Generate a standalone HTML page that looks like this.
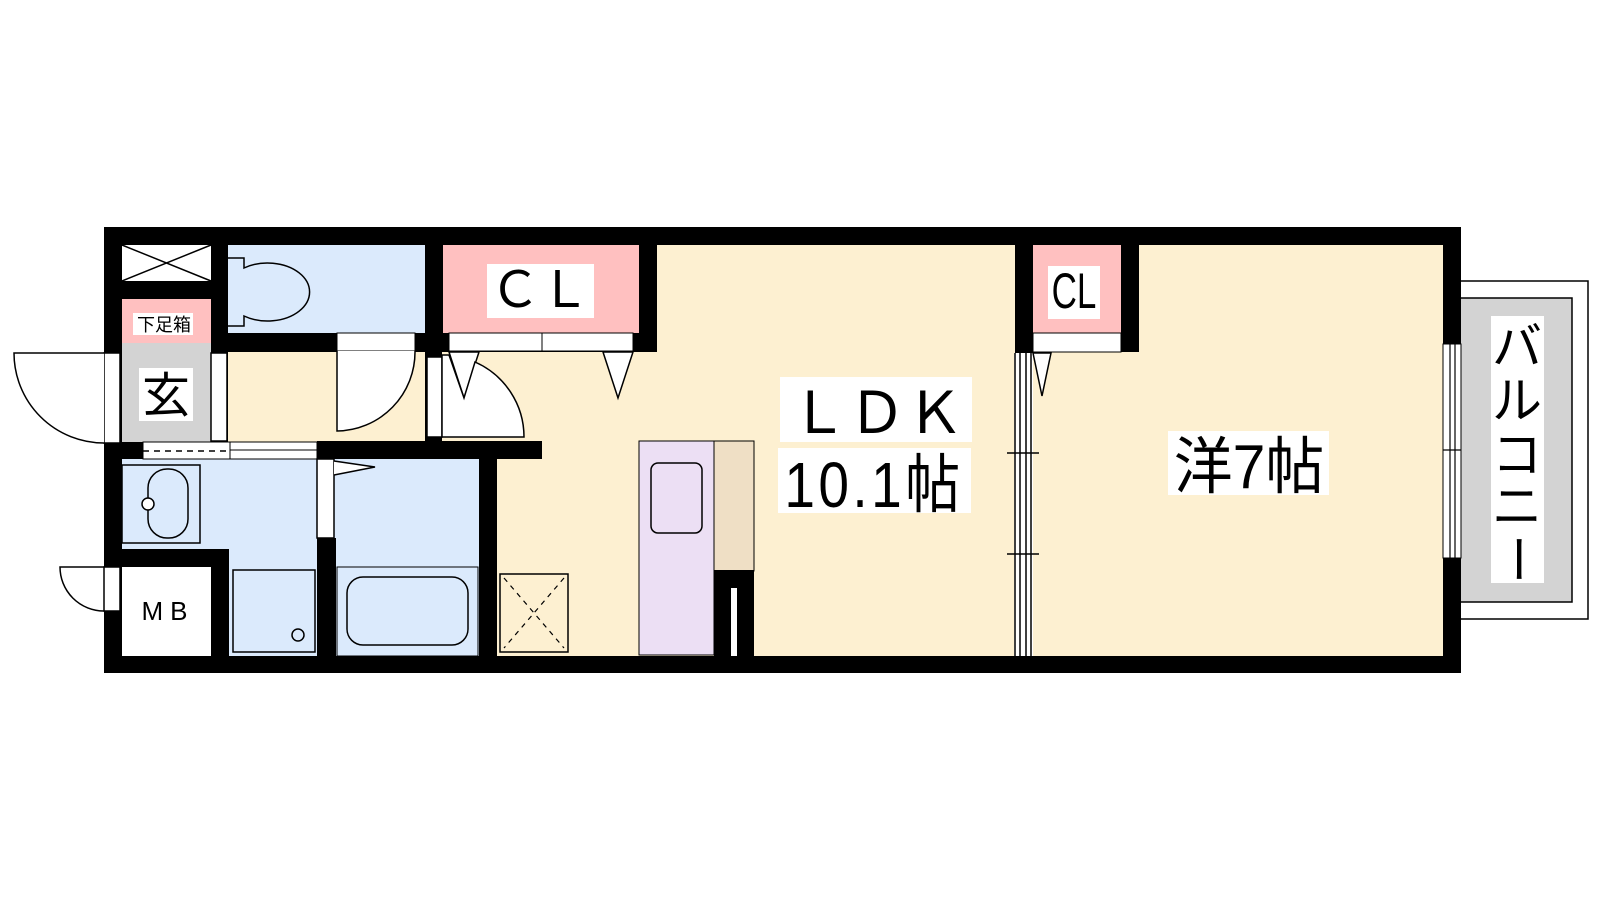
<!DOCTYPE html>
<html><head><meta charset="utf-8"><style>
html,body{margin:0;padding:0;background:#fff;width:1600px;height:900px;overflow:hidden}
svg{display:block}
text{font-family:"Liberation Sans","Noto Sans CJK JP",sans-serif;fill:#000}
</style></head><body>
<svg width="1600" height="900" viewBox="0 0 1600 900" xmlns="http://www.w3.org/2000/svg">
<!-- balcony -->
<rect x="1455" y="281" width="133" height="338" fill="#fff" stroke="#000" stroke-width="1.5"/>
<rect x="1455" y="298" width="117" height="304" fill="#d3d3d3" stroke="#000" stroke-width="1.5"/>
<!-- outer black -->
<rect x="104" y="227" width="1357" height="446" fill="#000"/>
<!-- LDK & western cream -->
<rect x="657" y="245" width="358" height="411" fill="#fdf0d1"/>
<rect x="442" y="352" width="216" height="90" fill="#fdf0d1"/>
<rect x="497" y="441" width="161" height="215" fill="#fdf0d1"/>
<rect x="542" y="441" width="116" height="20" fill="#fdf0d1"/>
<rect x="1033" y="352" width="410" height="304" fill="#fdf0d1"/>
<rect x="1139" y="245" width="304" height="108" fill="#fdf0d1"/>
<!-- hallway -->
<rect x="228" y="352" width="197" height="90" fill="#fdf0d1"/>
<!-- top-left X box -->
<rect x="122" y="245" width="89" height="36" fill="#fff"/>
<path d="M122 245 L211 281 M211 245 L122 281" stroke="#000" stroke-width="1.5"/>
<!-- 下足箱 -->
<rect x="122" y="299" width="89" height="44" fill="#ffc0c0"/>
<rect x="133" y="313" width="60" height="22" fill="#fff"/>
<text x="164" y="331" font-size="18" text-anchor="middle">下足箱</text>
<!-- 玄 -->
<rect x="122" y="343" width="89" height="99" fill="#d3d3d3"/>
<rect x="139" y="368" width="54" height="53" fill="#fff"/>
<text x="166" y="412" font-size="48" text-anchor="middle">玄</text>
<!-- entrance door -->
<rect x="104" y="353" width="16" height="90" fill="#fff" stroke="#000" stroke-width="1.5"/>
<path d="M104 353 L14 353 A90 90 0 0 0 104 443" fill="#fff" stroke="#000" stroke-width="1.5"/>
<!-- door frame between 玄 and hall -->
<rect x="211" y="353" width="16" height="88" fill="#fff" stroke="#000" stroke-width="1.5"/>
<!-- toilet -->
<rect x="228" y="245" width="197" height="88" fill="#dbeafc"/>
<path d="M228 258 L244 258 L244 268 A42 29 0 1 1 244 316 L244 326 L228 326" fill="#dbeafc" stroke="#000" stroke-width="1.5"/>
<!-- toilet door -->
<rect x="337" y="333" width="78" height="18" fill="#fff" stroke="#000" stroke-width="1"/>
<path d="M337 351 L337 431 A79 79 0 0 0 415 351" fill="#fff" stroke="#000" stroke-width="1.5"/>
<!-- CL big -->
<rect x="443" y="245" width="196" height="88" fill="#ffc0c0"/>
<rect x="487" y="264" width="107" height="54" fill="#fff"/>
<text x="540" y="307" font-size="50" text-anchor="middle">ＣＬ</text>
<rect x="449" y="333" width="93" height="18" fill="#fff" stroke="#000" stroke-width="1"/>
<rect x="542" y="333" width="91" height="18" fill="#fff" stroke="#000" stroke-width="1"/>
<path d="M449 352 L479 352 L464 398 Z M603 352 L633 352 L618 398 Z" fill="#fff" stroke="#000" stroke-width="1.5"/>
<!-- frame and door into LDK -->
<rect x="427" y="357" width="15" height="80" fill="#fff" stroke="#000" stroke-width="1.5"/>
<path d="M442 437 L524 437 A82 82 0 0 0 475 362 L464 398 L449 355 L442 355 Z" fill="#fff" stroke="#000" stroke-width="1.5"/>
<!-- bath area -->
<rect x="122" y="459" width="357" height="197" fill="#dbeafc"/>
<!-- hall/bath wall openings -->
<rect x="143" y="442" width="87" height="17" fill="#fff" stroke="#000" stroke-width="1"/>
<line x1="143" y1="451" x2="230" y2="451" stroke="#000" stroke-width="1.5" stroke-dasharray="6,5"/>
<rect x="230" y="442" width="87" height="17" fill="#fff" stroke="#000" stroke-width="1"/>
<line x1="230" y1="450" x2="317" y2="450" stroke="#000" stroke-width="1"/>
<!-- washbasin -->
<rect x="122" y="465" width="78" height="78" fill="#dbeafc" stroke="#000" stroke-width="1.5"/>
<rect x="148" y="469" width="40" height="69" rx="19" fill="none" stroke="#000" stroke-width="1.5"/>
<circle cx="148" cy="504" r="6" fill="#fff" stroke="#000" stroke-width="1.5"/>
<!-- MB -->
<rect x="104" y="549" width="125" height="18" fill="#000"/>
<rect x="211" y="549" width="18" height="107" fill="#000"/>
<rect x="122" y="567" width="89" height="89" fill="#fff"/>
<text x="168" y="620" font-size="26" text-anchor="middle" letter-spacing="7">MB</text>
<rect x="104" y="567" width="16" height="44" fill="#fff" stroke="#000" stroke-width="1.5"/>
<path d="M104 567 L60 567 A44 44 0 0 0 104 611" fill="none" stroke="#000" stroke-width="1.5"/>
<!-- shower tray -->
<rect x="233" y="570" width="82" height="82" fill="#dbeafc" stroke="#000" stroke-width="1.5"/>
<circle cx="298" cy="635" r="6" fill="none" stroke="#000" stroke-width="1.5"/>
<!-- bath partition -->
<rect x="317" y="538" width="19" height="118" fill="#000"/>
<rect x="317" y="459" width="17" height="79" fill="#fff" stroke="#000" stroke-width="1.5"/>
<path d="M334 461 L375 467 L334 475" fill="#fff" stroke="#000" stroke-width="1.5"/>
<!-- tub -->
<rect x="337" y="567" width="141" height="89" fill="#dbeafc" stroke="#000" stroke-width="1"/>
<rect x="347" y="577" width="121" height="68" rx="16" fill="none" stroke="#000" stroke-width="1.5"/>
<!-- black bars -->
<rect x="317" y="441" width="225" height="18" fill="#000"/>
<rect x="479" y="459" width="18" height="197" fill="#000"/>
<!-- washer -->
<rect x="500" y="574" width="68" height="78" fill="#fdf0d1" stroke="#000" stroke-width="1.5"/>
<path d="M504 578 L564 648 M564 578 L504 648" stroke="#000" stroke-width="1.2" stroke-dasharray="5,5"/>
<!-- kitchen -->
<rect x="639" y="441" width="75" height="214" fill="#ecdff4" stroke="#000" stroke-width="1"/>
<rect x="651" y="463" width="51" height="70" rx="7" fill="none" stroke="#000" stroke-width="1.5"/>
<rect x="714" y="441" width="40" height="130" fill="#efdfc5" stroke="#000" stroke-width="1"/>
<rect x="714" y="570" width="40" height="86" fill="#000"/>
<rect x="731" y="588" width="6" height="68" fill="#fff"/>
<!-- LDK label -->
<rect x="780" y="377" width="192" height="65" fill="#fff"/>
<text x="877" y="433" font-size="58" text-anchor="middle">ＬＤＫ</text>
<rect x="778" y="448" width="193" height="65" fill="#fff"/>
<text x="874" y="507" font-size="64" text-anchor="middle" letter-spacing="4" transform="translate(874 0) scale(0.86 1) translate(-874 0)">10.1帖</text>
<!-- divider sliding door -->
<rect x="1014" y="353" width="19" height="303" fill="#fff"/>
<path d="M1015 353 V656 M1020 353 V656 M1026 353 V656 M1031 353 V656" stroke="#000" stroke-width="1.5"/>
<path d="M1007 453 H1039 M1007 554 H1039" stroke="#000" stroke-width="1.5"/>
<!-- small CL -->
<rect x="1033" y="245" width="88" height="88" fill="#ffc0c0"/>
<rect x="1048" y="266" width="52" height="53" fill="#fff"/>
<text x="1074" y="308" font-size="50" text-anchor="middle" transform="translate(1074 0) scale(0.7 1) translate(-1074 0)">CL</text>
<rect x="1033" y="333" width="88" height="19" fill="#fff" stroke="#000" stroke-width="1"/>
<path d="M1033 353 L1051 353 L1042 396 Z" fill="#fff" stroke="#000" stroke-width="1.5"/>
<!-- 洋7帖 -->
<rect x="1168" y="431" width="161" height="64" fill="#fff"/>
<text x="1249" y="488" font-size="62" text-anchor="middle" transform="translate(1249 0) scale(0.95 1) translate(-1249 0)">洋7帖</text>
<!-- right window -->
<rect x="1443" y="344" width="18" height="214" fill="#fff" stroke="#000" stroke-width="1"/>
<path d="M1450 344 V558 M1455 344 V558 M1443 450 H1461" stroke="#000" stroke-width="1.2"/>
<!-- balcony label -->
<rect x="1491" y="316" width="53" height="267" fill="#fff"/>
<g font-size="50" text-anchor="middle">
<text x="1517" y="364">バ</text>
<text x="1517" y="418">ル</text>
<text x="1517" y="472">コ</text>
<text x="1517" y="524">ニ</text>
<text x="1517" y="576" transform="rotate(90 1517 559)">ー</text>
</g>
</svg>
</body></html>
